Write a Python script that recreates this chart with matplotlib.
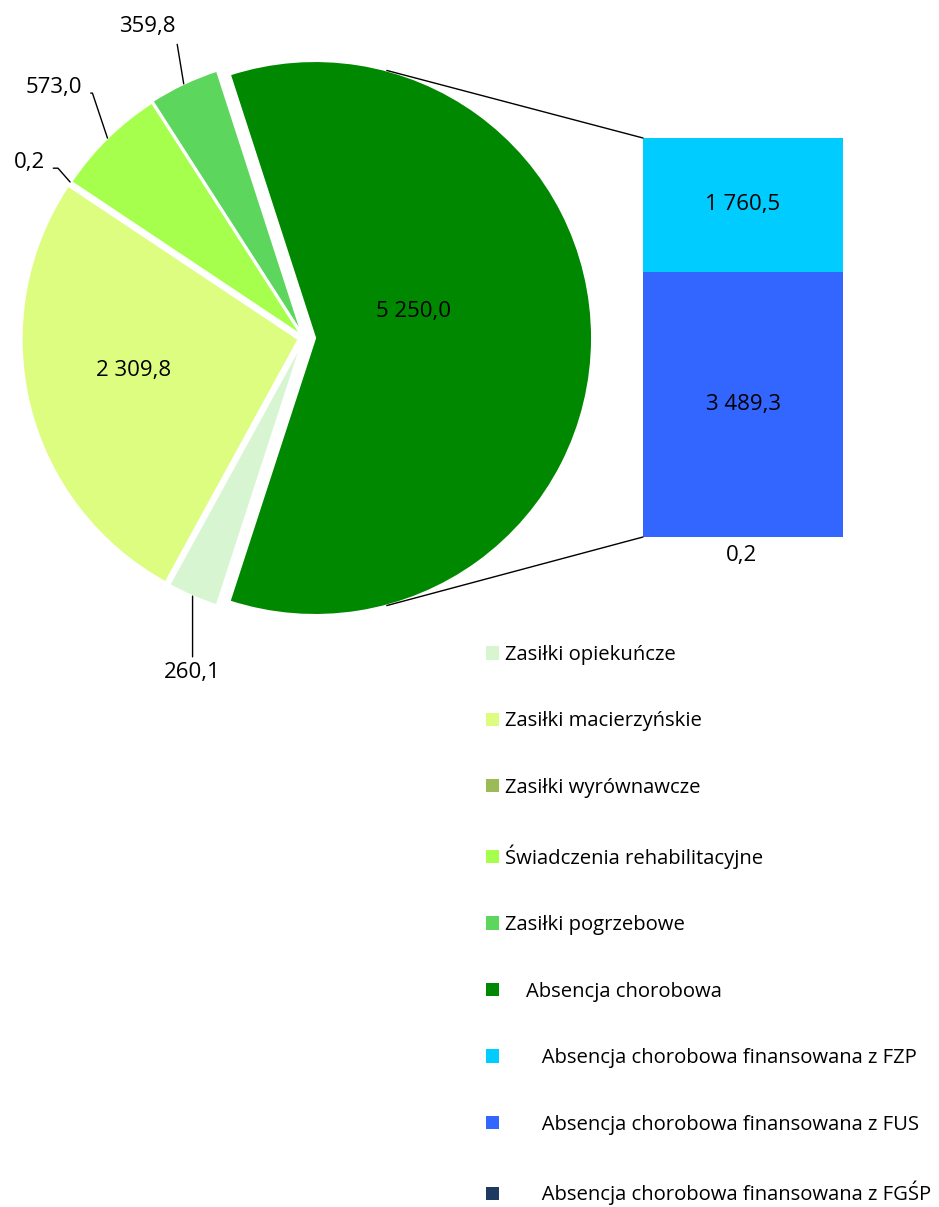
# Pie-of-bar: zasiłki chorobowe i absencja chorobowa
import numpy as np
import matplotlib
matplotlib.use("Agg")
import matplotlib.pyplot as plt
from matplotlib.patches import Patch, ConnectionPatch

plt.rcParams['font.family'] = ['Open Sans', 'DejaVu Sans']

# Data
pie_labels = ["Zasiłki opiekuńcze", "Zasiłki macierzyńskie", "Zasiłki wyrównawcze",
              "Świadczenia rehabilitacyjne", "Zasiłki pogrzebowe", "Absencja chorobowa"]
pie_values = [260.1, 2309.8, 0.2, 573.0, 359.8, 5250.0]
pie_colors = ["#D7F5D1", "#DDFD80", "#9BBB59", "#A6FF4D", "#5CD65C", "#008800"]

bar_labels = ["Absencja chorobowa finansowana z FGŚP",
              "Absencja chorobowa finansowana z FUS",
              "Absencja chorobowa finansowana z FZP"]
bar_values = [0.2, 3489.3, 1760.5]
bar_colors = ["#1F3A60", "#3366FF", "#00CCFF"]


def fmt(v):
    s = "{:,.1f}".format(v)
    return s.replace(",", " ").replace(".", ",")


W, H = 939, 1207
fig = plt.figure(figsize=(W / 100, H / 100), dpi=100)

# ---- pie ----
cx, cy, R = 304, 338, 277   # pixel layout of the pie
axp = fig.add_axes([0, 1 - 700 / H, 620 / W, 700 / H])
explode = [0.015, 0.02, 0.015, 0.012, 0.015, 0.04]
wedges, _ = axp.pie(pie_values, colors=pie_colors, startangle=252, counterclock=False,
                    explode=explode, wedgeprops=dict(edgecolor="white", linewidth=1.5))
axp.set_xlim(-cx / R, (620 - cx) / R)
axp.set_ylim((cy - 700) / R, cy / R)
axp.set_aspect('auto')
axp.axis('off')


def edge_point(i):
    w = wedges[i]
    ang = np.deg2rad((w.theta1 + w.theta2) / 2)
    c = w.center
    return (c[0] + np.cos(ang), c[1] + np.sin(ang)), np.rad2deg(ang)


fs = 16
# labels inside
axp.text(0.397, 0.097, fmt(pie_values[5]), ha='center', va='center', fontsize=fs)
axp.text(-0.617, -0.116, fmt(pie_values[1]), ha='center', va='center', fontsize=fs)

# outside labels with leader lines
p, a = edge_point(0)
axp.annotate(fmt(pie_values[0]), xy=p, xytext=(p[0], -1.209), ha='center', va='center',
             fontsize=fs, arrowprops=dict(arrowstyle='-', lw=1, color='black',
                                          shrinkA=2, shrinkB=0, relpos=(0.5, 1)))
p, a = edge_point(2)
axp.annotate(fmt(pie_values[2]), xy=p, xytext=(-0.935, 0.632), ha='right', va='center',
             fontsize=fs, arrowprops=dict(arrowstyle='-', lw=1, color='black',
                                          shrinkA=4, shrinkB=0, relpos=(1, 0.25),
                                          connectionstyle="angle,angleA=0,angleB=%.1f,rad=0" % (a - 15)))
p, a = edge_point(3)
axp.annotate(fmt(pie_values[3]), xy=p, xytext=(-0.80, 0.903), ha='right', va='center',
             fontsize=fs, arrowprops=dict(arrowstyle='-', lw=1, color='black',
                                          shrinkA=4, shrinkB=0, relpos=(1, 0.25),
                                          connectionstyle="angle,angleA=0,angleB=%.1f,rad=0" % (a - 26)))
p, a = edge_point(4)
axp.annotate(fmt(pie_values[4]), xy=p, xytext=(-0.465, 1.123), ha='right', va='center',
             fontsize=fs, arrowprops=dict(arrowstyle='-', lw=1, color='black',
                                          shrinkA=3, shrinkB=0, relpos=(1, 0.25)))

# ---- bar ----
axb = fig.add_axes([643 / W, 1 - 537 / H, 200 / W, 399 / H])
bottom = np.concatenate([[0], np.cumsum(bar_values)[:-1]])
bars = axb.bar(0, bar_values, bottom=bottom, width=1, color=bar_colors)
axb.set_xlim(-0.5, 0.5)
axb.set_ylim(0, sum(bar_values))
axb.axis('off')
for rect, v in zip(bars[1:], bar_values[1:]):
    axb.text(0, rect.get_y() + rect.get_height() / 2, fmt(v), ha='center', va='center',
             fontsize=fs)
axb.annotate(fmt(bar_values[0]), xy=(0, 0), xytext=(-1, -6), textcoords='offset points',
             ha='center', va='top', fontsize=fs)

# connecting lines
dc = wedges[5].center
for ang, yb in [(75, sum(bar_values)), (-75, 0)]:
    pa = (dc[0] + np.cos(np.deg2rad(ang)), dc[1] + np.sin(np.deg2rad(ang)))
    con = ConnectionPatch(xyA=pa, coordsA=axp.transData, xyB=(-0.5, yb),
                          coordsB=axb.transData, color='black', lw=1)
    fig.add_artist(con)

# ---- legend ----
lfs = 14.6
handles = [Patch(facecolor=c) for c in pie_colors + bar_colors[::-1]]
labels = pie_labels[:5] + ["    " + pie_labels[5]] + ["       " + l for l in bar_labels[::-1]]
fig.legend(handles, labels, loc='upper left', bbox_to_anchor=(486 / W, 1 - 645 / H),
           frameon=False, fontsize=lfs, handlelength=0.64, handleheight=0.64,
           handletextpad=0.3, labelspacing=2.29, borderpad=0, borderaxespad=0)

fig.savefig("out.png", dpi=100)
